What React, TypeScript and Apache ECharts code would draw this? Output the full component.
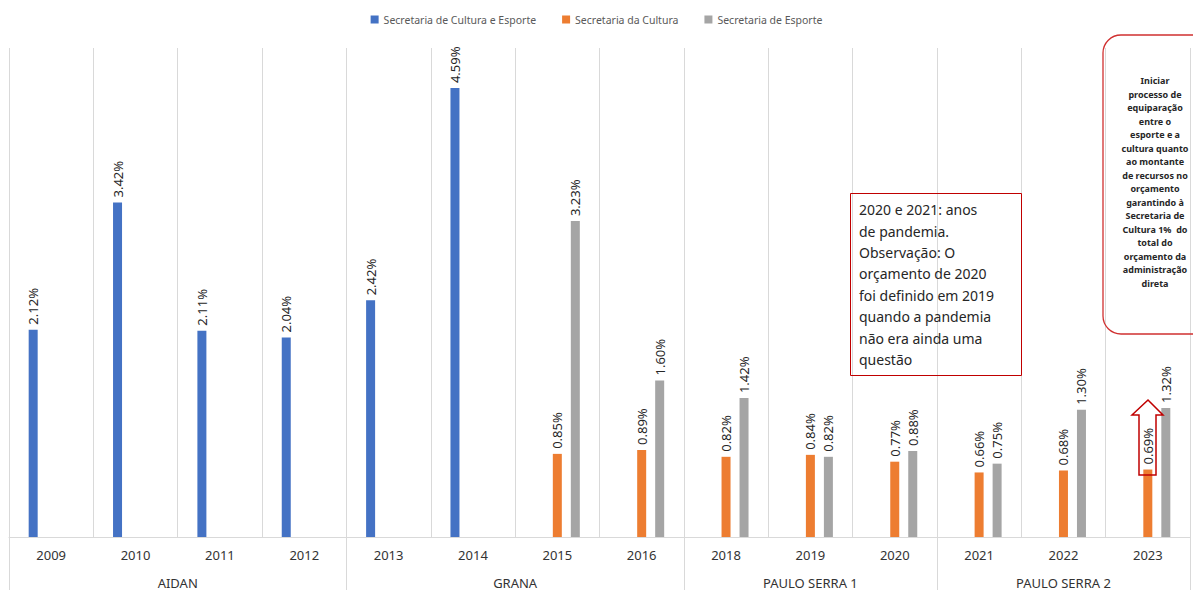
import React, { useEffect, useRef } from "react";
import * as echarts from "echarts";

const categories = ["2009", "2010", "2011", "2012", "2013", "2014", "2015", "2016", "2018", "2019", "2020", "2021", "2022", "2023"];
const seriesNames = ["Secretaria de Cultura e Esporte", "Secretaria da Cultura", "Secretaria de Esporte"];
const culturaEsporte = [2.12, 3.42, 2.11, 2.04, 2.42, 4.59, null, null, null, null, null, null, null, null];
const cultura = [null, null, null, null, null, null, 0.85, 0.89, 0.82, 0.84, 0.77, 0.66, 0.68, 0.69];
const esporte = [null, null, null, null, null, null, 3.23, 1.6, 1.42, 0.82, 0.88, 0.75, 1.3, 1.32];
const groupNames = ["AIDAN", "GRANA", "PAULO SERRA 1", "PAULO SERRA 2"];
const groupSpans = [4, 4, 3, 3];
const colors = ["#4472C4", "#ED7D31", "#A5A5A5"];

const noteText = [
  "2020 e 2021: anos",
  "de pandemia.",
  "Observação: O",
  "orçamento de 2020",
  "foi definido em 2019",
  "quando a pandemia",
  "não era ainda uma",
  "questão",
].join("\n");

const goalText = [
  "Iniciar",
  "processo de",
  "equiparação",
  "entre o",
  "esporte e a",
  "cultura quanto",
  "ao montante",
  "de recursos no",
  "orçamento",
  "garantindo à",
  "Secretaria de",
  "Cultura 1%  do",
  "total do",
  "orçamento da",
  "administração",
  "direta",
].join("\n");

const FONT = '"Noto Sans", "Open Sans", sans-serif';

export default function App() {
  const ref = useRef<HTMLDivElement>(null);
  useEffect(() => {
    if (!ref.current) return;
    const chart = echarts.init(ref.current, undefined, { renderer: "svg" });

    // group axis on half-category positions
    const halfCount = categories.length * 2 + 1;
    const groupAxisData: string[] = new Array(halfCount).fill("");
    const boundaries = new Set<number>([0]);
    const centers = new Set<number>();
    let acc = 0;
    groupSpans.forEach((span, i) => {
      const center = acc * 2 + span;
      groupAxisData[center] = groupNames[i];
      centers.add(center);
      acc += span;
      boundaries.add(acc * 2);
    });
    groupAxisData.forEach((v, i) => {
      if (!v) groupAxisData[i] = " ".repeat(i + 1);
    });

    const label = {
      show: true,
      position: "top" as const,
      rotate: 90,
      align: "left" as const,
      verticalAlign: "middle" as const,
      distance: 5,
      fontSize: 13,
      fontFamily: FONT,
      color: "#262626",
      formatter: (p: any) => (p.value == null ? "" : Number(p.value).toFixed(2) + "%"),
    };

    const mk = (name: string, data: (number | null)[], color: string) => ({
      name,
      type: "bar" as const,
      data,
      barWidth: 9,
      barGap: "100%",
      itemStyle: { color },
      label,
      xAxisIndex: 0,
    });

    chart.setOption({
      animation: false,
      backgroundColor: "#ffffff",
      textStyle: { fontFamily: FONT },
      legend: {
        data: seriesNames,
        top: 9,
        left: "center",
        icon: "rect",
        itemWidth: 8,
        itemHeight: 8,
        itemGap: 26,
        textStyle: { fontSize: 10.5, color: "#595959", fontFamily: FONT },
      },
      grid: { left: 9, right: 3, top: 48, bottom: 53, containLabel: false },
      xAxis: [
        {
          type: "category",
          data: categories,
          position: "bottom",
          axisLine: { show: true, lineStyle: { color: "#d9d9d9", width: 1 } },
          axisTick: { show: false },
          splitLine: { show: true, interval: 0, lineStyle: { color: "#d9d9d9", width: 1 } },
          axisLabel: { interval: 0, margin: 11, fontSize: 13, color: "#333333", fontFamily: FONT },
        },
        {
          type: "category",
          data: groupAxisData,
          boundaryGap: false,
          position: "bottom",
          axisLine: { show: false },
          axisTick: {
            show: true,
            length: 53,
            interval: (i: number) => boundaries.has(i),
            lineStyle: { color: "#d9d9d9", width: 1 },
          },
          splitLine: { show: false },
          axisLabel: {
            interval: (i: number) => centers.has(i),
            margin: 39,
            fontSize: 13,
            color: "#333333",
            fontFamily: FONT,
            formatter: (v: string) => v.trim(),
          },
        },
      ],
      yAxis: {
        type: "value",
        min: 0,
        max: 5,
        show: false,
        splitLine: { show: false },
      },
      series: [
        mk(seriesNames[0], culturaEsporte, colors[0]),
        mk(seriesNames[1], cultura, colors[1]),
        mk(seriesNames[2], esporte, colors[2]),
      ],
      graphic: [
        {
          type: "rect",
          shape: { x: 850.5, y: 193.5, width: 171, height: 182 },
          style: { fill: "none", stroke: "#c00000", lineWidth: 1 },
          z: 100,
        },
        {
          type: "text",
          x: 859,
          y: 199,
          style: {
            text: noteText,
            font: `14px ${FONT}`,
            fill: "#262626",
            lineHeight: 21.4,
            align: "left",
            verticalAlign: "top",
          },
          z: 101,
        },
        {
          type: "rect",
          shape: { x: 1103, y: 35, width: 110, height: 299, r: 18 },
          style: { fill: "none", stroke: "#d03030", lineWidth: 1.3 },
          z: 100,
        },
        {
          type: "text",
          x: 1155,
          y: 74,
          style: {
            text: goalText,
            font: `bold 9px ${FONT}`,
            fill: "#262626",
            lineHeight: 13.5,
            align: "center",
            verticalAlign: "top",
          },
          z: 101,
        },
        {
          type: "polygon",
          shape: {
            points: [
              [1148, 400],
              [1163, 415],
              [1156, 415],
              [1156, 475],
              [1139, 475],
              [1139, 415],
              [1132, 415],
            ],
          },
          style: { fill: "none", stroke: "#c00000", lineWidth: 1.5 },
          z: 102,
        },
      ],
    });
    return () => chart.dispose();
  }, []);
  return (
    <div
      ref={ref}
      style={{ position: "fixed", left: 0, top: 0, width: 1193, height: 590, background: "#fff" }}
    />
  );
}
